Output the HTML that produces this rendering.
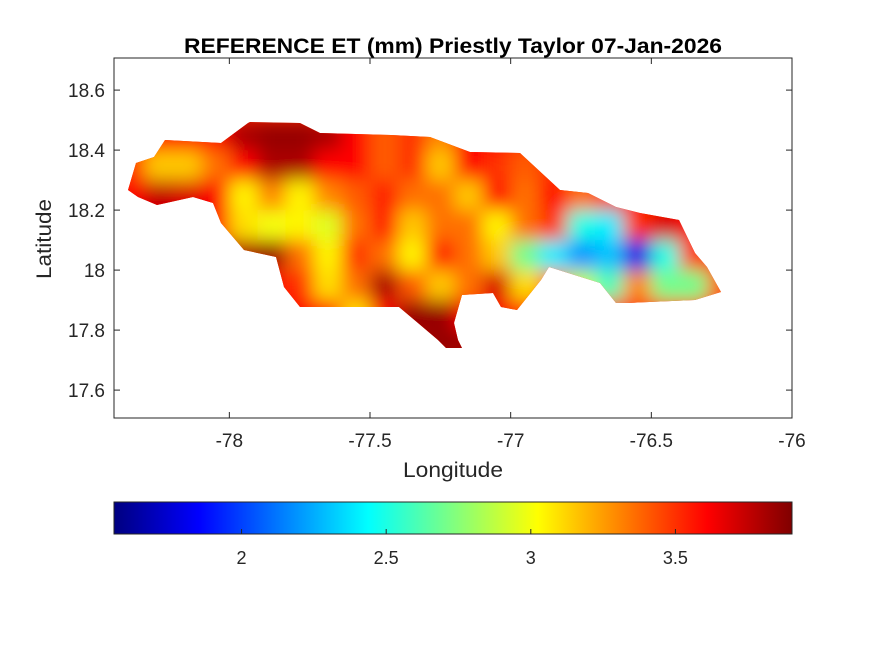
<!DOCTYPE html>
<html><head><meta charset="utf-8"><style>
body{margin:0;background:#fff;}
svg text{font-family:"Liberation Sans",sans-serif;fill:#262626;}
</style></head><body>
<svg id="chart" width="875" height="656" viewBox="0 0 875 656" xmlns="http://www.w3.org/2000/svg">
<defs>
<filter id="blur" filterUnits="userSpaceOnUse" x="60" y="60" width="760" height="360"><feGaussianBlur stdDeviation="9"/></filter>
<clipPath id="island"><polygon id="coast-clip"/></clipPath>
<linearGradient id="jetgrad" x1="0" x2="1" y1="0" y2="0"></linearGradient>
</defs>
<rect x="0" y="0" width="875" height="656" fill="#fff"/>
<rect x="114" y="58" width="678" height="360" fill="#fff" stroke="#262626" stroke-width="1"/>
<g id="mapg" clip-path="url(#island)">
  <rect x="110" y="110" width="630" height="250" fill="#ff3000"/>
  <g id="cells" filter="url(#blur)"></g>
</g>
<g id="axes"></g>
<text x="453" y="53" text-anchor="middle" font-size="21" font-weight="bold" textLength="538" lengthAdjust="spacingAndGlyphs" style="fill:#000">REFERENCE ET (mm) Priestly Taylor 07-Jan-2026</text>
<text x="453" y="477" text-anchor="middle" font-size="21" textLength="100" lengthAdjust="spacingAndGlyphs">Longitude</text>
<text transform="translate(51,239) rotate(-90)" text-anchor="middle" font-size="21" textLength="80" lengthAdjust="spacingAndGlyphs">Latitude</text>
<rect x="114" y="502" width="678" height="32" fill="url(#jetgrad)" stroke="#262626" stroke-width="1"/>
<g id="cbticks"></g>
</svg>
<script>
// axis data
const xTicks = [-78, -77.5, -77, -76.5, -76];
const yTicks = [18.6, 18.4, 18.2, 18, 17.8, 17.6];
const cbTicks = [2, 2.5, 3, 3.5];
// grid data
const lons = [-78.35,-78.25,-78.15,-78.05,-77.95,-77.85,-77.75,-77.65,-77.55,-77.45,-77.35,-77.25,-77.15,-77.05,-76.95,-76.85,-76.75,-76.65,-76.55,-76.45,-76.35,-76.25];
const lats = [18.45,18.35,18.25,18.15,18.05,17.95,17.85,17.75];
const etRow0 = [3.6,3.6,3.6,3.6,3.8,3.85,3.85,3.8,3.6,3.4,3.5,3.3,3.6,3.6,3.5,3.5,3.5,3.5,3.5,3.5,3.5,3.5];
const etRow1 = [3.5,3.15,3.15,3.35,3.6,3.8,3.8,3.6,3.6,3.4,3.5,3.15,3.6,3.5,3.4,3.5,3.5,3.5,3.5,3.5,3.5,3.5];
const etRow2 = [3.6,3.75,3.7,3.6,3.05,3.3,3.05,3.3,3.4,3.55,3.35,3.35,3.15,3.6,3.35,3.6,3.35,3.5,3.6,3.55,3.5,3.5];
const etRow3 = [3.6,3.7,3.6,3.6,3.1,3.0,3.05,2.95,3.35,3.55,3.15,3.35,3.35,3.05,3.35,3.5,2.5,2.4,3.5,3.7,3.6,3.5];
const etRow4 = [3.6,3.6,3.6,3.7,3.8,3.85,3.35,3.05,3.5,3.35,3.05,3.55,3.35,3.15,2.7,2.4,2.2,2.3,1.8,2.5,3.5,3.5];
const etRow5 = [3.6,3.6,3.6,3.6,3.6,3.6,3.5,3.1,3.35,3.8,3.4,3.15,3.35,3.7,3.1,3.35,2.9,2.6,3.3,2.7,2.7,3.4];
const etRow6 = [3.6,3.6,3.6,3.6,3.6,3.6,3.6,3.6,3.1,3.6,3.85,3.85,3.6,3.6,3.5,3.5,3.4,3.5,3.5,3.5,3.5,3.5];
const etRow7 = [3.6,3.6,3.6,3.6,3.6,3.6,3.6,3.6,3.6,3.6,3.8,3.85,3.85,3.6,3.5,3.5,3.5,3.5,3.5,3.5,3.5,3.5];
const etGrid = [etRow0,etRow1,etRow2,etRow3,etRow4,etRow5,etRow6,etRow7];
// coastline outline (pixel trace of island)
const coastX = [128,136,154,165,221,248,250,300,320,391,430,470,520,560,588,616,640,679,695,707,721,695,628,616,600,549,541,517,501,493,462,454,458,462,446,438,418,399,300,284,276,244,221,213,193,157,138];
const coastY = [190,163,157,140,143,123,122,123,133,135,137,152,153,190,193,207,213,220,253,267,292,300,303,303,283,267,280,310,307,293,295,323,340,348,348,340,323,307,307,287,257,250,223,203,197,205,197];

const X0=114,X1=792,Y0=58,Y1=418, LON0=-78.41, LON1=-76, LAT0=17.507, LAT1=18.707;
const CB0=1.559, CB1=3.903;
function xs(lon){return X0+(lon-LON0)/(LON1-LON0)*(X1-X0);}
function ys(lat){return Y1-(lat-LAT0)/(LAT1-LAT0)*(Y1-Y0);}
function cbx(v){return 114+(v-CB0)/(CB1-CB0)*678;}
function jet(t){
  t=Math.max(0,Math.min(1,t));
  const f=(a)=>Math.round(255*Math.max(0,Math.min(1,a)));
  const r=f(Math.min(4*t-1.5,-4*t+4.5)), g=f(Math.min(4*t-0.5,-4*t+3.5)), b=f(Math.min(4*t+0.5,-4*t+2.5));
  return `rgb(${r},${g},${b})`;
}
function col(v){return jet((v-CB0)/(CB1-CB0));}
const NS="http://www.w3.org/2000/svg";
function mk(tag,attrs,parent){const e=document.createElementNS(NS,tag);for(const k in attrs)e.setAttribute(k,attrs[k]);parent.appendChild(e);return e;}

document.getElementById('coast-clip').setAttribute('points',coastX.map((x,i)=>x+','+coastY[i]).join(' '));
const cells=document.getElementById('cells');
const dLon=0.1, dLat=0.1;
for(let r=0;r<lats.length;r++){
  for(let c=0;c<lons.length;c++){
    const x=xs(lons[c]-dLon/2), y=ys(lats[r]+dLat/2);
    const w=xs(lons[c]+dLon/2)-x+0.5, h=ys(lats[r]-dLat/2)-y+0.5;
    const e=mk('rect',{x:x,y:y,width:w,height:h,fill:col(etGrid[r][c])},cells);
    
    
  }
}
const grad=document.getElementById('jetgrad');
for(let i=0;i<=32;i++){mk('stop',{offset:(i/32),'stop-color':jet(i/32)},grad);}

const axes=document.getElementById('axes');
xTicks.forEach(v=>{
  const x=xs(v);
  mk('line',{x1:x,x2:x,y1:Y1,y2:Y1-6,stroke:'#262626'},axes);
  mk('line',{x1:x,x2:x,y1:Y0,y2:Y0+6,stroke:'#262626'},axes);
  const t=mk('text',{x:x,y:Y1+29,'text-anchor':'middle','font-size':'19'},axes);
  t.textContent=String(v);
  
  
});
yTicks.forEach(v=>{
  const y=ys(v);
  mk('line',{x1:X0,x2:X0+6,y1:y,y2:y,stroke:'#262626'},axes);
  mk('line',{x1:X1,x2:X1-6,y1:y,y2:y,stroke:'#262626'},axes);
  const t=mk('text',{x:X0-9,y:y+7,'text-anchor':'end','font-size':'19'},axes);
  t.textContent=String(v);
  
  
});
const cbt=document.getElementById('cbticks');
cbTicks.forEach(v=>{
  const x=cbx(v);
  mk('line',{x1:x,x2:x,y1:534,y2:529,stroke:'#262626'},cbt);
  const t=mk('text',{x:x,y:564,'text-anchor':'middle','font-size':'18'},cbt);
  t.textContent=String(v);
  
  
});
</script>
</body></html>
